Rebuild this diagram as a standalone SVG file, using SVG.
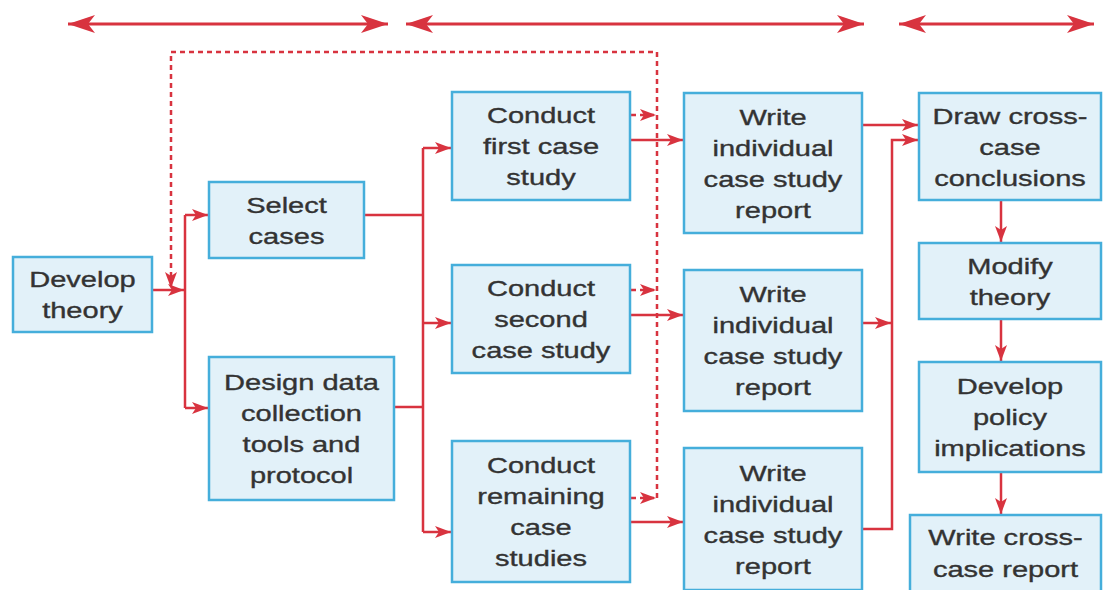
<svg xmlns="http://www.w3.org/2000/svg" width="1106" height="590" viewBox="0 0 1106 590">
<defs>
<style>
.box{fill:#e2f1f9;stroke:#45aedb;stroke-width:2.5}
.t{font-family:"Liberation Sans",Arial,sans-serif;font-size:22px;fill:#333;stroke:#333;stroke-width:0.35;text-anchor:middle}
.c{fill:none;stroke:#d8333f;stroke-width:2.5}
.d{fill:none;stroke:#d8333f;stroke-width:2.5;stroke-dasharray:5 4}
.big{fill:none;stroke:#d8333f;stroke-width:3}
</style>
<marker id="a" markerUnits="userSpaceOnUse" markerWidth="18" markerHeight="14" refX="16" refY="6" orient="auto">
<path d="M0,0 L16,6 L0,12 L4,6 z" fill="#d8333f"/>
</marker>
<marker id="b" markerUnits="userSpaceOnUse" markerWidth="30" markerHeight="22" refX="27" refY="9" orient="auto-start-reverse">
<path d="M0,0 L27,9 L0,18 L7,9 z" fill="#d8333f"/>
</marker>
</defs>
<rect width="1106" height="590" fill="#fff"/>
<g id="connectors">
<line class="big" x1="68" y1="24" x2="388" y2="24" marker-start="url(#b)" marker-end="url(#b)"/>
<line class="big" x1="406" y1="24" x2="864" y2="24" marker-start="url(#b)" marker-end="url(#b)"/>
<line class="big" x1="899" y1="24" x2="1094" y2="24" marker-start="url(#b)" marker-end="url(#b)"/>
<polyline class="d" points="657,498 657,52 171,52 171,288" marker-end="url(#a)"/>
<line class="d" x1="631" y1="115" x2="656" y2="115" marker-end="url(#a)"/>
<line class="d" x1="631" y1="290" x2="656" y2="290" marker-end="url(#a)"/>
<line class="d" x1="631" y1="498" x2="656" y2="498" marker-end="url(#a)"/>
<line class="c" x1="152" y1="290" x2="184" y2="290" marker-end="url(#a)"/>
<line class="c" x1="185" y1="215" x2="185" y2="408"/>
<line class="c" x1="185" y1="215" x2="208" y2="215" marker-end="url(#a)"/>
<line class="c" x1="185" y1="408" x2="208" y2="408" marker-end="url(#a)"/>
<line class="c" x1="364" y1="215" x2="423" y2="215"/>
<line class="c" x1="394" y1="407" x2="423" y2="407"/>
<line class="c" x1="423" y1="148" x2="423" y2="532"/>
<line class="c" x1="423" y1="148" x2="451" y2="148" marker-end="url(#a)"/>
<line class="c" x1="423" y1="323" x2="451" y2="323" marker-end="url(#a)"/>
<line class="c" x1="423" y1="532" x2="451" y2="532" marker-end="url(#a)"/>
<line class="c" x1="630" y1="140" x2="683" y2="140" marker-end="url(#a)"/>
<line class="c" x1="630" y1="315" x2="683" y2="315" marker-end="url(#a)"/>
<line class="c" x1="630" y1="522" x2="683" y2="522" marker-end="url(#a)"/>
<line class="c" x1="862" y1="125" x2="918" y2="125" marker-end="url(#a)"/>
<line class="c" x1="862" y1="323" x2="891" y2="323" marker-end="url(#a)"/>
<polyline class="c" points="862,529 892,529 892,140 918,140" marker-end="url(#a)"/>
<line class="c" x1="1001" y1="200" x2="1001" y2="242" marker-end="url(#a)"/>
<line class="c" x1="1001" y1="319" x2="1001" y2="361" marker-end="url(#a)"/>
<line class="c" x1="1001" y1="472" x2="1001" y2="514" marker-end="url(#a)"/>
</g>
<g id="develop-theory">
<rect class="box" x="13" y="257" width="139" height="75"/>
<text class="t" transform="translate(82.5,287) scale(1.32,1)">Develop</text>
<text class="t" transform="translate(82.5,318) scale(1.32,1)">theory</text>
</g>
<g id="select-cases">
<rect class="box" x="209" y="182" width="155" height="76"/>
<text class="t" transform="translate(286.5,212.5) scale(1.32,1)">Select</text>
<text class="t" transform="translate(286.5,243.5) scale(1.32,1)">cases</text>
</g>
<g id="design-data">
<rect class="box" x="209" y="357" width="185" height="143"/>
<text class="t" transform="translate(301.5,390) scale(1.32,1)">Design data</text>
<text class="t" transform="translate(301.5,421) scale(1.32,1)">collection</text>
<text class="t" transform="translate(301.5,452) scale(1.32,1)">tools and</text>
<text class="t" transform="translate(301.5,483) scale(1.32,1)">protocol</text>
</g>
<g id="conduct-first">
<rect class="box" x="452" y="92" width="178" height="108"/>
<text class="t" transform="translate(541,123) scale(1.32,1)">Conduct</text>
<text class="t" transform="translate(541,154) scale(1.32,1)">first case</text>
<text class="t" transform="translate(541,185) scale(1.32,1)">study</text>
</g>
<g id="conduct-second">
<rect class="box" x="452" y="265" width="178" height="108"/>
<text class="t" transform="translate(541,296) scale(1.32,1)">Conduct</text>
<text class="t" transform="translate(541,327) scale(1.32,1)">second</text>
<text class="t" transform="translate(541,358) scale(1.32,1)">case study</text>
</g>
<g id="conduct-remaining">
<rect class="box" x="452" y="441" width="178" height="141"/>
<text class="t" transform="translate(541,473) scale(1.32,1)">Conduct</text>
<text class="t" transform="translate(541,504) scale(1.32,1)">remaining</text>
<text class="t" transform="translate(541,535) scale(1.32,1)">case</text>
<text class="t" transform="translate(541,566) scale(1.32,1)">studies</text>
</g>
<g id="write-1">
<rect class="box" x="684" y="93" width="178" height="140"/>
<text class="t" transform="translate(773,124.5) scale(1.32,1)">Write</text>
<text class="t" transform="translate(773,155.5) scale(1.32,1)">individual</text>
<text class="t" transform="translate(773,186.5) scale(1.32,1)">case study</text>
<text class="t" transform="translate(773,217.5) scale(1.32,1)">report</text>
</g>
<g id="write-2">
<rect class="box" x="684" y="270" width="178" height="141"/>
<text class="t" transform="translate(773,302) scale(1.32,1)">Write</text>
<text class="t" transform="translate(773,333) scale(1.32,1)">individual</text>
<text class="t" transform="translate(773,364) scale(1.32,1)">case study</text>
<text class="t" transform="translate(773,395) scale(1.32,1)">report</text>
</g>
<g id="write-3">
<rect class="box" x="684" y="448" width="178" height="142"/>
<text class="t" transform="translate(773,480.5) scale(1.32,1)">Write</text>
<text class="t" transform="translate(773,511.5) scale(1.32,1)">individual</text>
<text class="t" transform="translate(773,542.5) scale(1.32,1)">case study</text>
<text class="t" transform="translate(773,573.5) scale(1.32,1)">report</text>
</g>
<g id="draw-conclusions">
<rect class="box" x="919" y="93" width="182" height="107"/>
<text class="t" transform="translate(1010,123.5) scale(1.32,1)">Draw cross-</text>
<text class="t" transform="translate(1010,154.5) scale(1.32,1)">case</text>
<text class="t" transform="translate(1010,185.5) scale(1.32,1)">conclusions</text>
</g>
<g id="modify-theory">
<rect class="box" x="919" y="243" width="182" height="76"/>
<text class="t" transform="translate(1010,274) scale(1.32,1)">Modify</text>
<text class="t" transform="translate(1010,305) scale(1.32,1)">theory</text>
</g>
<g id="policy-implications">
<rect class="box" x="919" y="362" width="182" height="110"/>
<text class="t" transform="translate(1010,394) scale(1.32,1)">Develop</text>
<text class="t" transform="translate(1010,425) scale(1.32,1)">policy</text>
<text class="t" transform="translate(1010,456) scale(1.32,1)">implications</text>
</g>
<g id="write-cross-case">
<rect class="box" x="910" y="515" width="191" height="80"/>
<text class="t" transform="translate(1005.5,545) scale(1.32,1)">Write cross-</text>
<text class="t" transform="translate(1005.5,577) scale(1.32,1)">case report</text>
</g>
</svg>
